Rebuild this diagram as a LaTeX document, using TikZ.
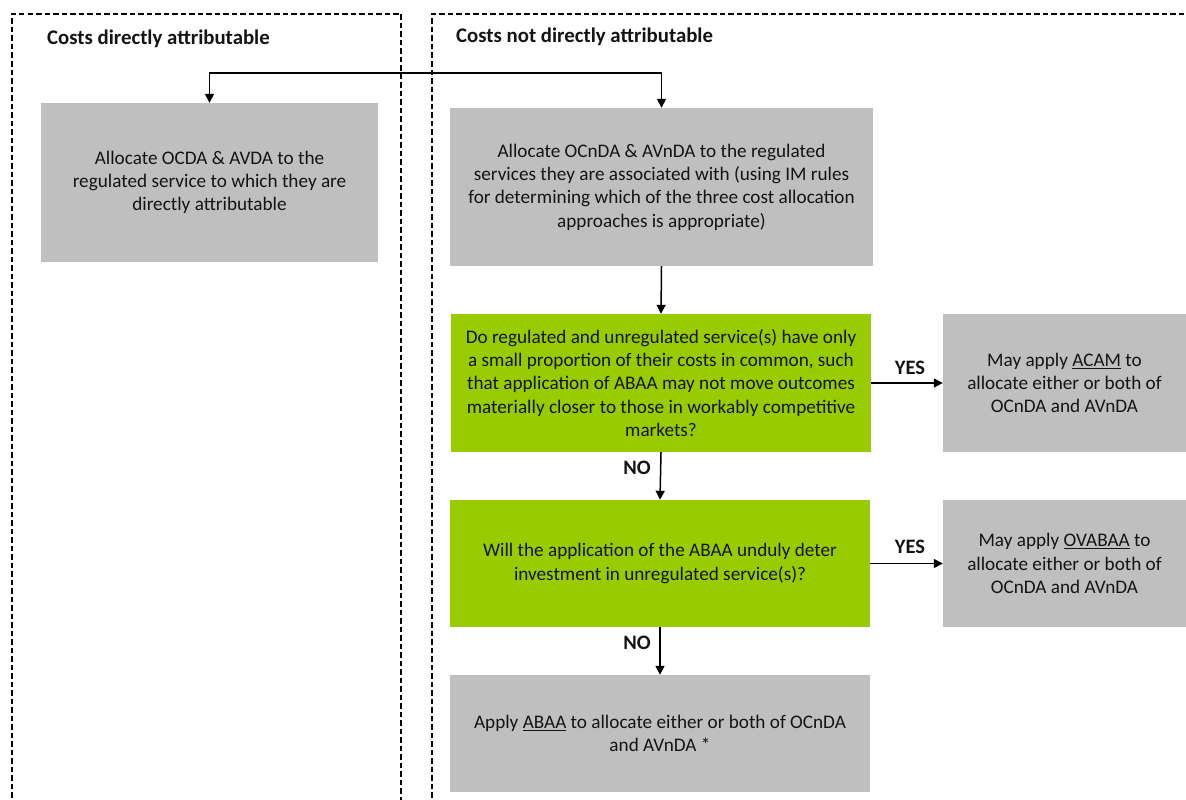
\documentclass[tikz,border=0pt]{standalone}
\usepackage{fontspec}
\setmainfont{Carlito}
\usetikzlibrary{arrows.meta}
\definecolor{boxgray}{HTML}{BFBFBF}
\definecolor{qgreen}{HTML}{99CC00}
\definecolor{ink}{HTML}{141414}
\begin{document}
\begin{tikzpicture}[x=1pt,y=-1pt,
  every node/.style={font=\fontsize{19.2}{23.3}\selectfont, text=ink},
  panel/.style={draw=black, line width=1.1pt, dash pattern=on 5.5pt off 3pt},
  graybox/.style={fill=boxgray, align=center, inner sep=0pt},
  greenbox/.style={fill=qgreen, align=center, inner sep=0pt},
  arr/.style={draw=black, line width=1.5pt, -{Triangle[length=9pt,width=9pt]}},
  heading/.style={font=\bfseries\fontsize{20.8}{24}\selectfont, anchor=base west, inner sep=0pt},
  branch/.style={font=\bfseries\fontsize{20.5}{24}\selectfont, inner sep=0pt}]

\fill[white] (0,0) rectangle (1186,800);
\useasboundingbox (0,0) rectangle (1186,800);

% dashed panels
\draw[panel] (12,806) -- (12,14) -- (401,14) -- (401,806);
\draw[panel] (432,806) -- (432,14) -- (1192,14);

\node[heading] (hda) at (47,45) {Costs directly attributable};
\node[heading] (hnda) at (456,43) {Costs not directly attributable};

% boxes
\node[graybox, minimum width=337pt, minimum height=159pt] (da) at (209.5,182.5)
  {Allocate OCDA \& AVDA to the\\regulated service to which they are\\directly attributable};
\node[graybox, minimum width=423pt, minimum height=158pt] (nda) at (661.5,187)
  {Allocate OCnDA \& AVnDA to the regulated\\services they are associated with (using IM rules\\for determining which of the three cost allocation\\approaches is appropriate)};
\node[greenbox, minimum width=420pt, minimum height=138pt] (q1) at (661,383)
  {Do regulated and unregulated service(s) have only\\a small proportion of their costs in common, such\\that application of ABAA may not move outcomes\\materially closer to those in workably competitive\\markets?};
\node[graybox, minimum width=243pt, minimum height=138pt] (acam) at (1064.5,383)
  {May apply \underline{ACAM} to\\allocate either or both of\\OCnDA and AVnDA};
\node[greenbox, minimum width=420pt, minimum height=127pt] (q2) at (660,563.5)
  {Will the application of the ABAA unduly deter\\investment in unregulated service(s)?};
\node[graybox, minimum width=243pt, minimum height=127pt] (ovabaa) at (1064.5,563.5)
  {May apply \underline{OVABAA} to\\allocate either or both of\\OCnDA and AVnDA};
\node[graybox, minimum width=420pt, minimum height=117pt] (abaa) at (660,733.5)
  {Apply \underline{ABAA} to allocate either or both of OCnDA\\and AVnDA *};

% connectors
\coordinate (fork) at (434,73);
\draw[arr] (fork) -| (da.north);
\draw[arr] (fork) -| (nda.north);
\draw[arr] (nda.south) -- (q1.north);
\draw[arr] (q1.east) -- (acam.west);
\draw[arr] (q1.south) -- (q2.north);
\draw[arr] (q2.east) -- (ovabaa.west);
\draw[arr] (q2.south) -- (abaa.north);

\node[branch] (yes1) at (910,368) {YES};
\node[branch] (no1) at (637,468) {NO};
\node[branch] (yes2) at (910,547) {YES};
\node[branch] (no2) at (637,643) {NO};
\end{tikzpicture}
\end{document}
